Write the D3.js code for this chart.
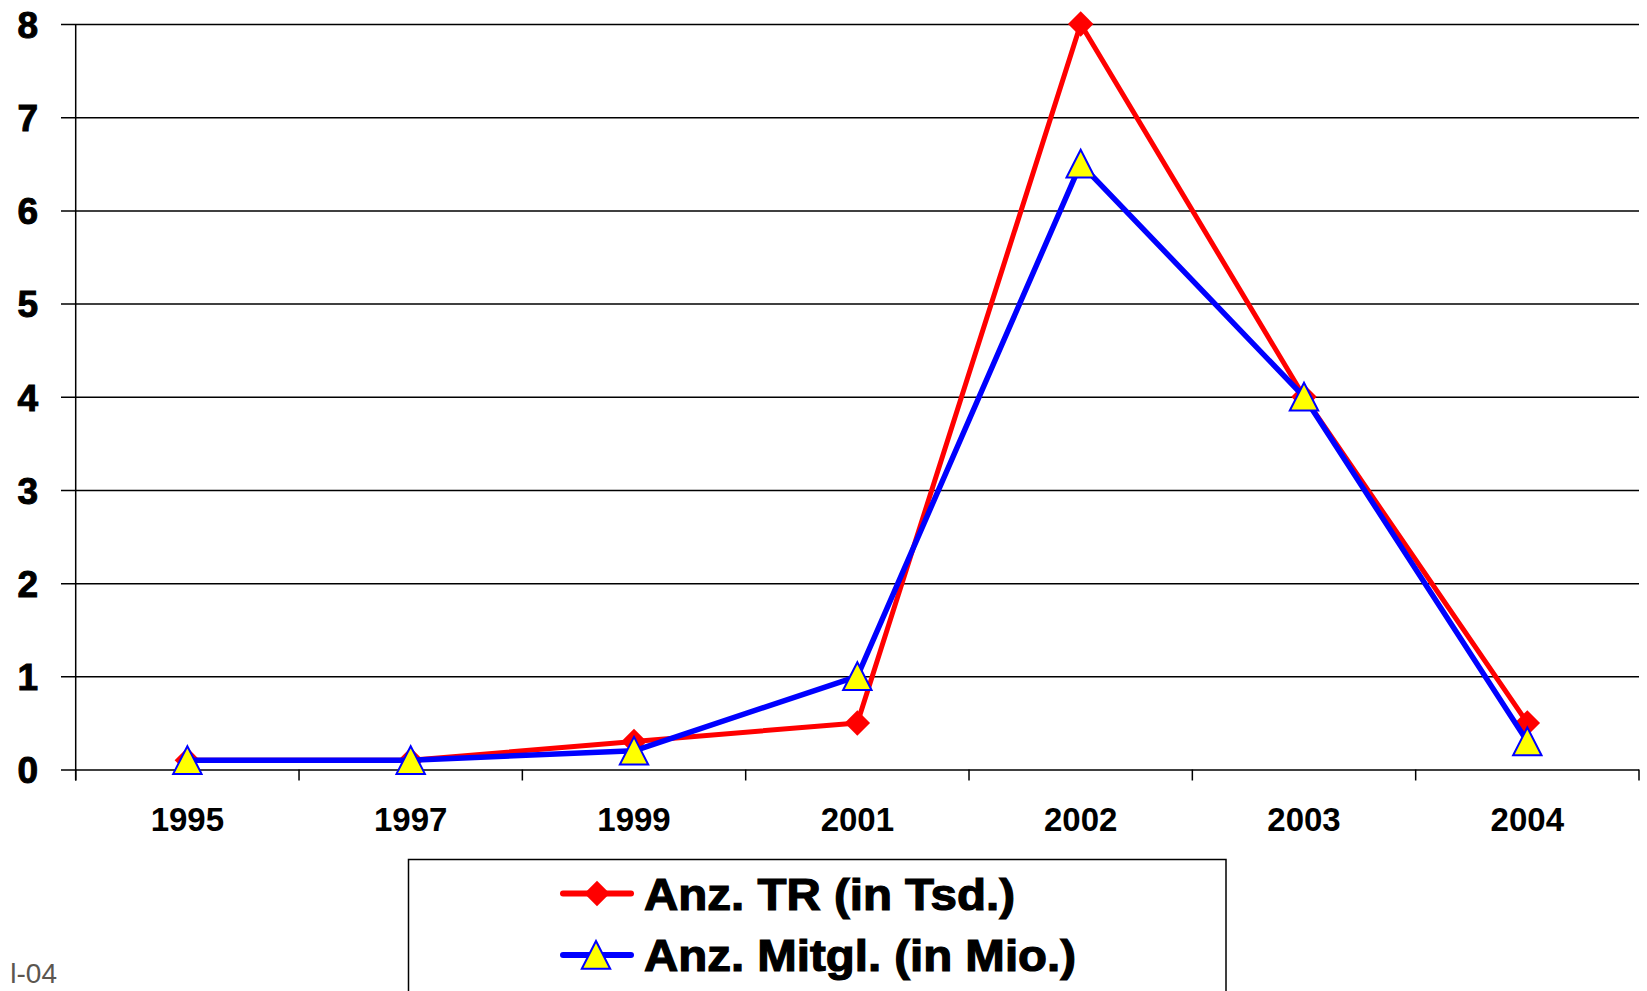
<!doctype html>
<html lang="de">
  <head>
    <meta charset="utf-8">
    <title>Anz. TR / Anz. Mitgl.</title>
    <style>
      body { margin: 0; background: #fff; }
      svg { display: block; font-family: "Liberation Sans", Arial, sans-serif; }
    </style>
  </head>
  <body>
    <div id="chart"></div>

    <script src="https://d3js.org/d3.v7.min.js"></script>
    <script type="text/javascript">
      // data
      const years = ['1995', '1997', '1999', '2001', '2002', '2003', '2004'];
      const tr = [0.1, 0.1, 0.3, 0.5, 8, 4, 0.5];         // Anz. TR (in Tsd.)
      const mitgl = [0.1, 0.1, 0.2, 1.0, 6.5, 4.0, 0.3];  // Anz. Mitgl. (in Mio.)
      const yTicks = [0, 1, 2, 3, 4, 5, 6, 7, 8];
      const seriesNames = ['Anz. TR (in Tsd.)', 'Anz. Mitgl. (in Mio.)'];

      const w = 1647;
      const h = 991;

      const svg = d3.select('#chart')
                    .append('svg')
                    .attr('width', w)
                    .attr('height', h);

      const x = d3.scaleBand()
                  .domain(years)
                  .range([75.7, 1639])
                  .padding(0);

      const y = d3.scaleLinear()
                  .domain([0, 8])
                  .range([769.5, 24]);

      // gridlines + y axis labels
      const yAxis = d3.axisLeft(y)
                      .tickValues(yTicks)
                      .tickSize(-(1639 - 61))
                      .tickPadding(22)
                      .tickFormat(d3.format('d'));

      const gy = svg.append('g')
        .attr('transform', 'translate(61,0)')
        .call(yAxis);
      gy.select('.domain').remove();
      gy.selectAll('.tick line')
        .attr('stroke', '#000')
        .attr('stroke-width', 1.5);
      gy.selectAll('.tick text')
        .attr('x', 38 - 61)
        .attr('dy', '0.36em')
        .attr('text-anchor', 'end')
        .attr('font-size', 37)
        .attr('font-weight', 900)
        .attr('font-family', '"Liberation Sans", Arial, sans-serif')
        .attr('fill', '#000')
        .attr('stroke', '#000')
        .attr('stroke-width', 1);

      // vertical axis line
      svg.append('line')
        .attr('x1', x.range()[0]).attr('x2', x.range()[0])
        .attr('y1', y(8)).attr('y2', y(0) + 11)
        .attr('stroke', '#000')
        .attr('stroke-width', 1.5);

      // x axis ticks between categories
      const tickXs = years.map(d => x(d)).concat([x.range()[1]]);
      svg.selectAll('.xtick')
        .data(tickXs)
        .enter()
        .append('line')
        .attr('class', 'xtick')
        .attr('x1', d => d).attr('x2', d => d)
        .attr('y1', y(0)).attr('y2', y(0) + 11)
        .attr('stroke', '#000')
        .attr('stroke-width', 1.5);

      svg.selectAll('.xlabel')
        .data(years)
        .enter()
        .append('text')
        .attr('class', 'xlabel')
        .attr('x', d => x(d) + x.bandwidth() / 2)
        .attr('y', 831)
        .attr('text-anchor', 'middle')
        .attr('font-size', 33)
        .attr('font-weight', 'bold')
        .text(d => d);

      const cx = (d, i) => x(years[i]) + x.bandwidth() / 2;

      const line = d3.line()
                     .x((d, i) => x(years[i]) + x.bandwidth() / 2)
                     .y(d => y(d));

      const diamond = d3.symbol().type(d3.symbolSquare).size(18 * 18);
      const triangle = 'M0,-14 L14.2,13.7 L-14.2,13.7 Z';

      // red series
      svg.append('path')
        .datum(tr)
        .attr('d', line)
        .attr('fill', 'none')
        .attr('stroke', '#ff0000')
        .attr('stroke-width', 5)
        .attr('stroke-linejoin', 'round');

      svg.selectAll('.mTR')
        .data(tr)
        .enter()
        .append('path')
        .attr('class', 'mTR')
        .attr('d', diamond)
        .attr('transform', (d, i) => `translate(${cx(d, i)},${y(d)}) rotate(45)`)
        .attr('fill', '#ff0000');

      // blue series
      svg.append('path')
        .datum(mitgl)
        .attr('d', line)
        .attr('fill', 'none')
        .attr('stroke', '#0000ff')
        .attr('stroke-width', 5.5)
        .attr('stroke-linejoin', 'round');

      svg.selectAll('.mMitgl')
        .data(mitgl)
        .enter()
        .append('path')
        .attr('class', 'mMitgl')
        .attr('d', triangle)
        .attr('transform', (d, i) => `translate(${cx(d, i)},${y(d)})`)
        .attr('fill', '#ffff00')
        .attr('stroke', '#0000ff')
        .attr('stroke-width', 2);

      // legend
      svg.append('rect')
        .attr('x', 408.5)
        .attr('y', 859.5)
        .attr('width', 817.5)
        .attr('height', 160)
        .attr('fill', '#fff')
        .attr('stroke', '#000')
        .attr('stroke-width', 1.5);

      const legY = [893.5, 955];
      const legColors = ['#ff0000', '#0000ff'];

      const leg = svg.selectAll('.leg')
        .data(seriesNames)
        .enter()
        .append('g')
        .attr('class', 'leg')
        .attr('transform', (d, i) => `translate(0,${legY[i]})`);

      leg.append('line')
        .attr('x1', 563).attr('x2', 631)
        .attr('stroke', (d, i) => legColors[i])
        .attr('stroke-width', 6)
        .attr('stroke-linecap', 'round');

      leg.filter((d, i) => i === 0)
        .append('path')
        .attr('d', diamond)
        .attr('transform', 'translate(597,0) rotate(45)')
        .attr('fill', '#ff0000');

      leg.filter((d, i) => i === 1)
        .append('path')
        .attr('d', triangle)
        .attr('transform', 'translate(596,0)')
        .attr('fill', '#ffff00')
        .attr('stroke', '#0000ff')
        .attr('stroke-width', 2);

      leg.append('text')
        .attr('x', 644)
        .attr('y', 16)
        .attr('font-size', 44)
        .attr('font-weight', 900)
        .attr('stroke', '#000')
        .attr('stroke-width', 1.2)
        .attr('textLength', (d, i) => i === 0 ? 371 : 432)
        .attr('lengthAdjust', 'spacingAndGlyphs')
        .text(d => d);

      // footer date at the bottom left
      svg.append('text')
        .attr('x', 57)
        .attr('y', 983)
        .attr('text-anchor', 'end')
        .attr('font-size', 28)
        .attr('fill', '#5b5650')
        .text('l-04');
    </script>
  </body>
</html>
